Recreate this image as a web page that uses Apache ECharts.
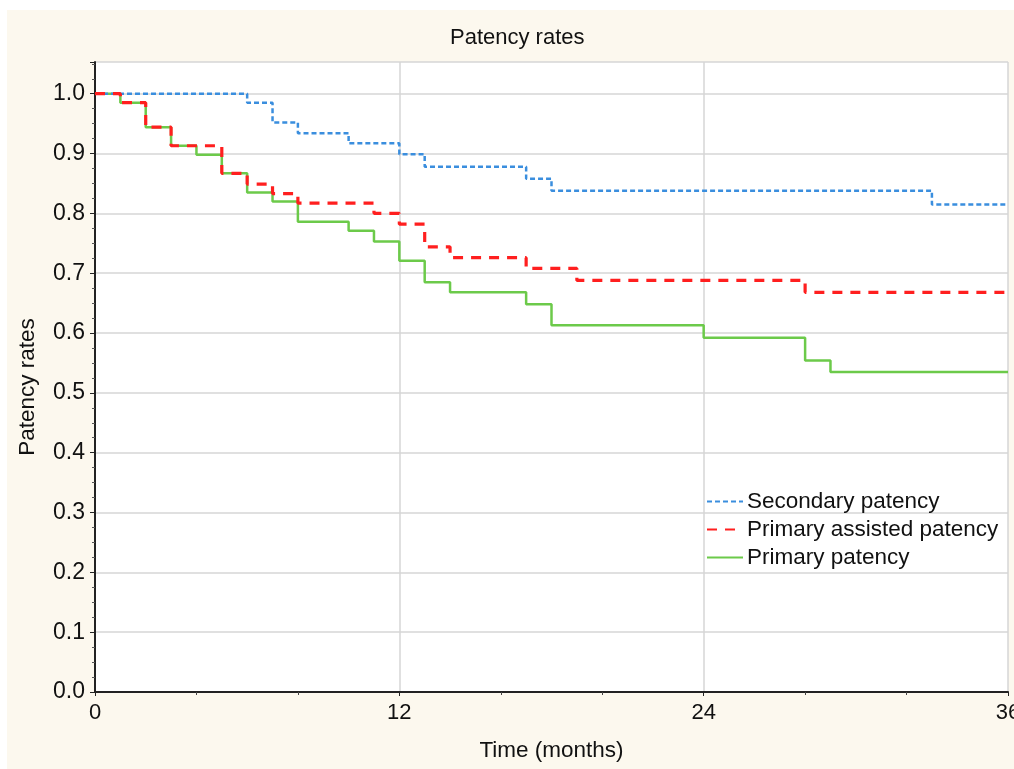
<!DOCTYPE html>
<html>
<head>
<meta charset="utf-8">
<title>Patency rates</title>
<script src="https://cdn.jsdelivr.net/npm/echarts@6/dist/echarts.min.js"></script>
<style>
  html, body { margin: 0; padding: 0; background: #fff; }
  #main { position: absolute; left: 7px; top: 10px; width: 1007px; height: 759px; }
</style>
</head>
<body>
<div id="main"></div>
<script type="text/javascript">
    // Kaplan-Meier style step data: [month, rate]
    var secondaryPatency = [
        [0, 1.0], [6, 0.985], [7, 0.952], [8, 0.934], [10, 0.917], [12, 0.899],
        [13, 0.878], [17, 0.858], [18, 0.838], [33, 0.815], [36, 0.815]
    ];
    var primaryAssisted = [
        [0, 1.0], [1, 0.985], [2, 0.944], [3, 0.913], [5, 0.867], [6, 0.849],
        [7, 0.833], [8, 0.817], [11, 0.800], [12, 0.782], [13, 0.744], [14, 0.726],
        [17, 0.708], [19, 0.688], [28, 0.668], [36, 0.668]
    ];
    var primaryPatency = [
        [0, 1.0], [1, 0.985], [2, 0.944], [3, 0.913], [4, 0.898], [5, 0.867],
        [6, 0.835], [7, 0.820], [8, 0.786], [10, 0.771], [11, 0.753], [12, 0.721],
        [13, 0.685], [14, 0.668], [17, 0.648], [18, 0.613], [24, 0.592], [28, 0.554],
        [29, 0.535], [36, 0.535]
    ];
    var seriesNames = ['Secondary patency', 'Primary assisted patency', 'Primary patency'];

    var font = 'Liberation Sans, Arial, sans-serif';
    var myChart = echarts.init(document.getElementById('main'));

    var option = {
        backgroundColor: '#fcf8ee',
        animation: false,
        title: {
            text: 'Patency rates',
            left: 438,
            top: 12,
            textStyle: { fontFamily: font, fontSize: 22, fontWeight: 'normal', color: '#111' }
        },
        legend: {
            orient: 'vertical',
            left: 694,
            top: 475,
            itemWidth: 36,
            itemHeight: 14,
            itemGap: 5,
            data: seriesNames,
            itemStyle: { opacity: 0 },
            textStyle: { fontFamily: font, fontSize: 22.5, color: '#111', padding: [0, 0, 0, -1] }
        },
        grid: {
            left: 88,
            right: 6,
            top: 52,
            bottom: 77,
            outerBoundsMode: 'none',
            containLabel: false,
            show: true,
            backgroundColor: '#fff',
            borderWidth: 0
        },
        xAxis: {
            type: 'value',
            min: 0,
            max: 36,
            interval: 12,
            name: 'Time (months)',
            nameLocation: 'middle',
            nameGap: 47,
            nameTextStyle: { fontFamily: font, fontSize: 22.5, color: '#111' },
            axisLine: { show: true, lineStyle: { color: '#222', width: 2 } },
            axisTick: { show: true, length: 4, lineStyle: { color: '#222' } },
            minorTick: { show: true, splitNumber: 3, length: 3, lineStyle: { color: '#444' } },
            axisLabel: { fontFamily: font, fontSize: 22, color: '#111', margin: 10 },
            splitLine: { show: true, lineStyle: { color: '#d6d6d6', width: 1.5 } }
        },
        yAxis: {
            type: 'value',
            min: 0,
            max: 1.053,
            interval: 0.1,
            name: 'Patency rates',
            nameLocation: 'middle',
            nameGap: 56,
            nameTextStyle: { fontFamily: font, fontSize: 22.5, color: '#111', padding: [0, 20, 0, 0] },
            axisLine: { show: true, lineStyle: { color: '#222', width: 2 } },
            axisTick: { show: true, length: 5, lineStyle: { color: '#222' } },
            minorTick: { show: true, splitNumber: 4, length: 3, lineStyle: { color: '#555' } },
            axisLabel: {
                fontFamily: font, fontSize: 23, color: '#111', margin: 10,
                formatter: function (v) { return v > 1.001 ? '' : v.toFixed(1); }
            },
            splitLine: { show: true, lineStyle: { color: '#d6d6d6', width: 1.5 } }
        },
        series: [
            {
                name: seriesNames[0],
                type: 'line',
                step: 'end',
                symbol: 'none',
                data: secondaryPatency,
                itemStyle: { color: '#3a8ede' },
                lineStyle: { color: '#3a8ede', width: 2.5, type: [5, 3] },
                z: 3
            },
            {
                name: seriesNames[1],
                type: 'line',
                step: 'end',
                symbol: 'none',
                data: primaryAssisted,
                itemStyle: { color: '#ff1f1f' },
                lineStyle: { color: '#ff1f1f', width: 3.2, type: [10, 8] },
                z: 4
            },
            {
                name: seriesNames[2],
                type: 'line',
                step: 'end',
                symbol: 'none',
                data: primaryPatency,
                itemStyle: { color: '#6cca4a' },
                lineStyle: { color: '#6cca4a', width: 2.5 },
                z: 2
            }
        ]
    };
    myChart.setOption(option);
</script>
</body>
</html>
